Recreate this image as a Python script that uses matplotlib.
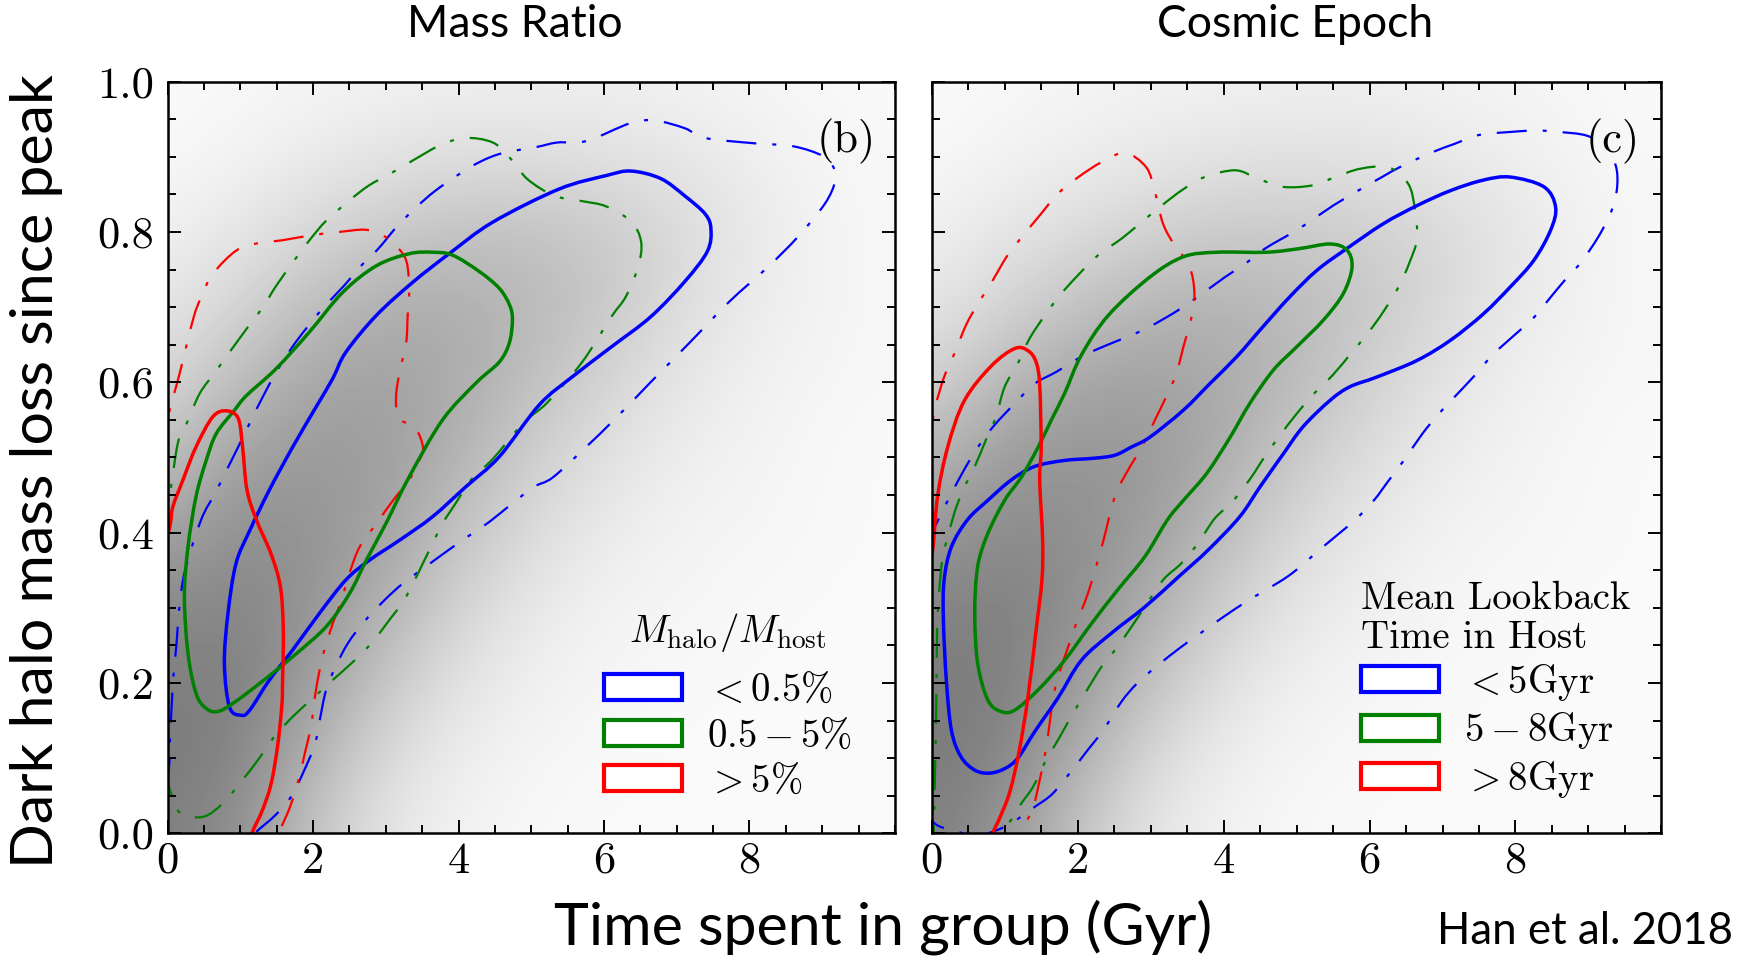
#!/usr/bin/env python3
"""Mass loss vs time in group: density + contours, two panels (b, c)."""
import numpy as np
import matplotlib
matplotlib.use("Agg")
import matplotlib.pyplot as plt
from matplotlib.colors import LinearSegmentedColormap
from matplotlib.patches import Patch, PathPatch
from matplotlib.path import Path
from matplotlib.ticker import MultipleLocator

plt.rcParams["mathtext.fontset"] = "cm"
plt.rcParams["axes.unicode_minus"] = False

# ---------------------------------------------------------------- data
X_TICKS = [0, 2, 4, 6, 8]
X_TICK_LABELS = ["0", "2", "4", "6", "8"]
Y_TICKS = [0.0, 0.2, 0.4, 0.6, 0.8, 1.0]
Y_TICK_LABELS = ["0.0", "0.2", "0.4", "0.6", "0.8", "1.0"]

# background density (darkness 0..1), rows y = 0.0 .. 1.0, cols x = 0 .. 10
DENS_B = [
    [0.50, 0.44, 0.22, 0.10, 0.05, 0.03, 0.02, 0.02, 0.02, 0.02, 0.02],
    [0.52, 0.48, 0.30, 0.14, 0.07, 0.04, 0.03, 0.02, 0.02, 0.02, 0.02],
    [0.50, 0.50, 0.38, 0.22, 0.11, 0.06, 0.04, 0.03, 0.02, 0.02, 0.02],
    [0.46, 0.48, 0.42, 0.30, 0.17, 0.09, 0.05, 0.04, 0.03, 0.02, 0.02],
    [0.36, 0.44, 0.42, 0.36, 0.24, 0.14, 0.08, 0.05, 0.04, 0.03, 0.02],
    [0.25, 0.37, 0.40, 0.38, 0.30, 0.19, 0.12, 0.07, 0.05, 0.03, 0.02],
    [0.16, 0.27, 0.35, 0.37, 0.33, 0.25, 0.17, 0.10, 0.06, 0.04, 0.03],
    [0.10, 0.17, 0.26, 0.32, 0.32, 0.28, 0.22, 0.14, 0.08, 0.05, 0.03],
    [0.06, 0.10, 0.16, 0.21, 0.24, 0.24, 0.21, 0.15, 0.09, 0.05, 0.03],
    [0.03, 0.05, 0.08, 0.11, 0.13, 0.13, 0.12, 0.10, 0.07, 0.04, 0.03],
    [0.02, 0.03, 0.04, 0.05, 0.06, 0.06, 0.06, 0.05, 0.04, 0.03, 0.02],
]
DENS_C = [
    [0.50, 0.42, 0.22, 0.10, 0.05, 0.03, 0.02, 0.02, 0.02, 0.02, 0.02],
    [0.52, 0.48, 0.32, 0.15, 0.07, 0.04, 0.03, 0.02, 0.02, 0.02, 0.02],
    [0.52, 0.50, 0.40, 0.24, 0.12, 0.06, 0.04, 0.03, 0.02, 0.02, 0.02],
    [0.48, 0.50, 0.44, 0.32, 0.19, 0.10, 0.06, 0.04, 0.03, 0.02, 0.02],
    [0.40, 0.46, 0.44, 0.38, 0.26, 0.15, 0.09, 0.05, 0.04, 0.03, 0.02],
    [0.29, 0.39, 0.42, 0.40, 0.32, 0.21, 0.13, 0.08, 0.05, 0.03, 0.02],
    [0.18, 0.28, 0.35, 0.37, 0.34, 0.27, 0.18, 0.11, 0.06, 0.04, 0.03],
    [0.10, 0.17, 0.24, 0.29, 0.30, 0.27, 0.22, 0.15, 0.09, 0.05, 0.03],
    [0.06, 0.10, 0.14, 0.18, 0.21, 0.21, 0.19, 0.15, 0.10, 0.05, 0.03],
    [0.03, 0.05, 0.07, 0.09, 0.11, 0.12, 0.11, 0.09, 0.07, 0.04, 0.03],
    [0.02, 0.03, 0.04, 0.05, 0.05, 0.06, 0.06, 0.05, 0.04, 0.03, 0.02],
]

# panel (b): M_halo / M_host
B_BLUE_SOLID = [
    (1.01, 0.157), (0.85, 0.168), (0.78, 0.226), (0.83, 0.293), (0.94, 0.359),
    (1.13, 0.403), (1.40, 0.457), (1.72, 0.514), (2.04, 0.567), (2.27, 0.605),
    (2.45, 0.640), (2.87, 0.689), (3.37, 0.733), (3.87, 0.771), (4.47, 0.813),
    (5.38, 0.857), (6.03, 0.875), (6.37, 0.881), (6.78, 0.871), (7.11, 0.848),
    (7.39, 0.824), (7.47, 0.804), (7.42, 0.774), (7.11, 0.734), (6.64, 0.687),
    (6.10, 0.647), (5.56, 0.607), (5.11, 0.570), (4.56, 0.501), (4.10, 0.461),
    (3.64, 0.421), (3.19, 0.390), (2.77, 0.363), (2.45, 0.337), (2.09, 0.293),
    (1.72, 0.244), (1.40, 0.204), (1.13, 0.164),
]
B_GREEN_SOLID = [
    (0.69, 0.162), (0.53, 0.166), (0.39, 0.186), (0.28, 0.239), (0.23, 0.315),
    (0.28, 0.381), (0.39, 0.448), (0.53, 0.496), (0.67, 0.532), (0.92, 0.563),
    (1.08, 0.582), (1.49, 0.618), (1.95, 0.667), (2.41, 0.720), (2.87, 0.755),
    (3.32, 0.771), (3.64, 0.773), (3.92, 0.769), (4.29, 0.747), (4.56, 0.725),
    (4.70, 0.703), (4.74, 0.684), (4.70, 0.653), (4.56, 0.627), (4.25, 0.600),
    (3.78, 0.550), (3.32, 0.474), (3.00, 0.412), (2.73, 0.363), (2.50, 0.319),
    (2.18, 0.275), (1.72, 0.235), (1.26, 0.199), (0.90, 0.173),
]
B_RED_SOLID = [
    (-0.10, 0.36), (0.03, 0.408), (0.07, 0.434), (0.21, 0.470), (0.39, 0.514),
    (0.62, 0.554), (0.81, 0.562), (0.97, 0.552), (1.03, 0.514), (1.09, 0.457),
    (1.22, 0.417), (1.42, 0.372), (1.55, 0.328), (1.59, 0.270), (1.58, 0.204),
    (1.57, 0.170), (1.51, 0.115), (1.42, 0.065), (1.30, 0.030), (1.16, 0.0),
    (1.10, -0.03),
]
B_BLUE_DASH = [
    (-0.03, 0.06), (0.02, 0.09), (0.03, 0.12), (0.05, 0.16), (0.08, 0.21),
    (0.12, 0.25), (0.16, 0.30), (0.24, 0.35), (0.46, 0.417), (0.65, 0.452),
    (0.81, 0.483), (0.97, 0.514), (1.15, 0.550), (1.31, 0.581), (1.49, 0.613),
    (1.70, 0.645), (1.90, 0.671), (2.13, 0.698), (2.43, 0.729), (2.64, 0.753),
    (2.89, 0.777), (3.16, 0.808), (3.42, 0.833), (3.67, 0.854), (4.01, 0.877),
    (4.31, 0.894), (4.61, 0.905), (5.07, 0.913), (5.36, 0.919), (5.76, 0.921),
    (6.37, 0.945), (6.71, 0.948), (7.11, 0.938), (7.39, 0.925), (8.06, 0.918),
    (8.60, 0.914), (9.01, 0.901), (9.16, 0.885), (9.18, 0.868), (9.04, 0.838),
    (8.67, 0.794), (8.26, 0.754), (7.72, 0.707), (7.18, 0.653), (6.64, 0.600),
    (6.17, 0.553), (5.70, 0.509), (5.29, 0.473), (5.04, 0.461), (4.74, 0.439),
    (4.42, 0.414), (4.13, 0.395), (3.85, 0.376), (3.51, 0.352), (3.23, 0.332),
    (2.98, 0.310), (2.68, 0.279), (2.48, 0.253), (2.32, 0.224), (2.18, 0.191),
    (2.09, 0.150), (2.02, 0.117), (1.86, 0.080), (1.70, 0.049), (1.48, 0.024),
    (1.20, 0.0), (1.05, -0.02),
]
B_GREEN_DASH = [
    (-0.10, 0.40), (0.03, 0.452), (0.14, 0.519), (0.26, 0.545), (0.44, 0.585),
    (0.65, 0.613), (0.85, 0.640), (1.10, 0.673), (1.31, 0.700), (1.49, 0.728),
    (1.74, 0.762), (1.95, 0.789), (2.18, 0.815), (2.50, 0.842), (2.77, 0.862),
    (3.07, 0.878), (3.44, 0.899), (3.74, 0.915), (4.08, 0.925), (4.47, 0.919),
    (4.72, 0.897), (4.95, 0.870), (5.32, 0.848), (5.70, 0.841), (6.03, 0.834),
    (6.37, 0.814), (6.51, 0.787), (6.47, 0.754), (6.30, 0.714), (6.10, 0.687),
    (5.70, 0.627), (5.22, 0.573), (4.89, 0.546), (4.48, 0.499), (4.17, 0.470),
    (3.96, 0.439), (3.78, 0.412), (3.60, 0.377), (3.28, 0.315), (3.05, 0.284),
    (2.82, 0.255), (2.57, 0.230), (2.27, 0.204), (2.00, 0.180), (1.74, 0.157),
    (1.47, 0.129), (1.26, 0.100), (1.03, 0.071), (0.76, 0.040), (0.49, 0.022),
    (0.17, 0.027), (0.03, 0.058), (-0.10, 0.09),
]
B_RED_DASH = [
    (-0.10, 0.50), (0.02, 0.56), (0.16, 0.610), (0.35, 0.684), (0.46, 0.713),
    (0.62, 0.744), (0.94, 0.775), (1.24, 0.785), (1.58, 0.789), (2.00, 0.796),
    (2.36, 0.800), (2.71, 0.803), (2.91, 0.797), (3.07, 0.788), (3.28, 0.762),
    (3.32, 0.716), (3.30, 0.689), (3.28, 0.653), (3.19, 0.614), (3.14, 0.580),
    (3.18, 0.552), (3.40, 0.540), (3.51, 0.514), (3.46, 0.496), (3.32, 0.470),
    (3.10, 0.443), (2.87, 0.412), (2.64, 0.381), (2.50, 0.346), (2.39, 0.310),
    (2.27, 0.279), (2.13, 0.235), (2.04, 0.191), (1.97, 0.142), (1.88, 0.104),
    (1.81, 0.075), (1.69, 0.037), (1.53, 0.0), (1.45, -0.03),
]

# panel (c): mean lookback time in host
C_BLUE_SOLID = [
    (0.79, 0.080), (0.59, 0.084), (0.40, 0.102), (0.27, 0.137), (0.20, 0.204),
    (0.16, 0.284), (0.17, 0.337), (0.27, 0.381), (0.49, 0.417), (0.77, 0.443),
    (1.09, 0.470), (1.41, 0.488), (1.82, 0.496), (2.23, 0.499), (2.51, 0.503),
    (2.74, 0.514), (2.99, 0.527), (3.45, 0.563), (3.81, 0.598), (4.18, 0.634),
    (4.54, 0.674), (4.91, 0.714), (5.28, 0.749), (5.69, 0.778), (6.19, 0.811),
    (6.65, 0.835), (7.11, 0.855), (7.56, 0.869), (7.93, 0.873), (8.39, 0.860),
    (8.55, 0.833), (8.48, 0.802), (8.25, 0.762), (7.93, 0.727), (7.56, 0.691),
    (7.11, 0.656), (6.65, 0.629), (6.10, 0.607), (5.73, 0.594), (5.46, 0.576),
    (5.09, 0.541), (4.82, 0.505), (4.50, 0.461), (4.22, 0.421), (3.79, 0.377),
    (3.38, 0.341), (2.92, 0.301), (2.46, 0.266), (2.05, 0.230), (1.73, 0.180),
    (1.41, 0.135), (1.18, 0.100), (1.00, 0.086),
]
C_GREEN_SOLID = [
    (0.95, 0.162), (0.77, 0.177), (0.63, 0.226), (0.59, 0.293), (0.63, 0.355),
    (0.77, 0.399), (1.00, 0.443), (1.23, 0.474), (1.46, 0.514), (1.64, 0.550),
    (1.82, 0.585), (2.05, 0.636), (2.42, 0.689), (2.99, 0.740), (3.45, 0.767),
    (3.91, 0.773), (4.59, 0.773), (5.05, 0.778), (5.46, 0.784), (5.69, 0.776),
    (5.76, 0.753), (5.64, 0.718), (5.37, 0.683), (5.00, 0.647), (4.68, 0.616),
    (4.36, 0.572), (4.09, 0.527), (3.77, 0.479), (3.45, 0.443), (3.23, 0.417),
    (2.92, 0.368), (2.55, 0.324), (2.19, 0.279), (1.82, 0.230), (1.46, 0.191),
    (1.14, 0.164),
]
C_RED_SOLID = [
    (-0.10, 0.33), (0.01, 0.375), (0.08, 0.448), (0.22, 0.514), (0.45, 0.576),
    (0.82, 0.622), (1.14, 0.645), (1.32, 0.642), (1.43, 0.627), (1.48, 0.596),
    (1.50, 0.514), (1.48, 0.470), (1.52, 0.390), (1.51, 0.337), (1.43, 0.270),
    (1.32, 0.182), (1.20, 0.110), (1.07, 0.055), (0.93, 0.020), (0.84, 0.0),
    (0.78, -0.03),
]
C_BLUE_DASH = [
    (-0.10, 0.035), (0.04, 0.013), (0.27, 0.004), (0.50, -0.002), (0.62, -0.01),
    (0.73, -0.002), (1.05, 0.011), (1.41, 0.035), (1.66, 0.053), (1.94, 0.086),
    (2.14, 0.111), (2.35, 0.137), (2.60, 0.175), (2.81, 0.199), (3.08, 0.222),
    (3.42, 0.248), (3.68, 0.266), (3.97, 0.286), (4.34, 0.310), (4.62, 0.326),
    (4.94, 0.346), (5.35, 0.380), (5.79, 0.416), (6.06, 0.443), (6.26, 0.469),
    (6.47, 0.496), (6.72, 0.531), (6.93, 0.556), (7.16, 0.580), (7.46, 0.611),
    (7.68, 0.636), (7.93, 0.658), (8.25, 0.686), (8.48, 0.713), (8.73, 0.742),
    (8.91, 0.761), (9.18, 0.801), (9.36, 0.841), (9.39, 0.881), (9.25, 0.912),
    (8.98, 0.928), (8.60, 0.933), (8.28, 0.935), (7.93, 0.933), (7.50, 0.929),
    (7.16, 0.917), (6.86, 0.906), (6.45, 0.888), (6.17, 0.873), (5.88, 0.857),
    (5.50, 0.835), (5.23, 0.817), (4.96, 0.800), (4.57, 0.778), (4.30, 0.758),
    (4.02, 0.740), (3.68, 0.716), (3.38, 0.696), (2.99, 0.674), (2.72, 0.662),
    (2.39, 0.649), (2.07, 0.635), (1.71, 0.614), (1.41, 0.598), (1.14, 0.572),
    (0.86, 0.543), (0.65, 0.516), (0.47, 0.488), (0.27, 0.452), (0.11, 0.421),
    (-0.10, 0.38),
]
C_GREEN_DASH = [
    (0.02, -0.03), (0.03, 0.013), (0.04, 0.058), (0.06, 0.155), (0.07, 0.248),
    (0.08, 0.284), (0.10, 0.319), (0.15, 0.368), (0.22, 0.394), (0.31, 0.426),
    (0.43, 0.457), (0.59, 0.488), (0.75, 0.525), (0.88, 0.554), (1.00, 0.594),
    (1.18, 0.625), (1.34, 0.658), (1.55, 0.689), (1.75, 0.715), (2.00, 0.742),
    (2.28, 0.769), (2.60, 0.791), (2.85, 0.811), (3.15, 0.835), (3.45, 0.857),
    (3.74, 0.873), (4.16, 0.882), (4.47, 0.871), (4.81, 0.860), (5.22, 0.862),
    (5.53, 0.873), (5.87, 0.884), (6.26, 0.886), (6.53, 0.864), (6.62, 0.831),
    (6.65, 0.791), (6.55, 0.760), (6.41, 0.729), (6.19, 0.694), (5.99, 0.667),
    (5.76, 0.640), (5.49, 0.609), (5.24, 0.585), (5.00, 0.558), (4.77, 0.529),
    (4.57, 0.502), (4.36, 0.471), (4.11, 0.440), (3.88, 0.419), (3.65, 0.386),
    (3.42, 0.359), (3.17, 0.337), (2.92, 0.301), (2.74, 0.275), (2.53, 0.246),
    (2.33, 0.222), (2.10, 0.186), (1.91, 0.155), (1.73, 0.124), (1.57, 0.098),
    (1.39, 0.062), (1.23, 0.040), (1.09, 0.018), (1.00, 0.007), (0.95, -0.02),
]
C_RED_DASH = [
    (-0.10, 0.49), (0.04, 0.563), (0.17, 0.607), (0.31, 0.638), (0.47, 0.676),
    (0.63, 0.704), (0.82, 0.733), (1.04, 0.769), (1.25, 0.795), (1.48, 0.822),
    (1.73, 0.851), (2.01, 0.873), (2.33, 0.893), (2.65, 0.905), (2.94, 0.886),
    (3.06, 0.853), (3.17, 0.811), (3.33, 0.782), (3.53, 0.755), (3.60, 0.718),
    (3.55, 0.682), (3.46, 0.651), (3.35, 0.611), (3.21, 0.580), (3.06, 0.550),
    (2.88, 0.514), (2.69, 0.483), (2.51, 0.448), (2.33, 0.381), (2.14, 0.319),
    (1.98, 0.279), (1.87, 0.248), (1.73, 0.208), (1.66, 0.177), (1.57, 0.115),
    (1.48, 0.071), (1.39, 0.035), (1.23, 0.0), (1.18, -0.03),
]

B_LEGEND_TITLE = r"$M_{\rm halo}/M_{\rm host}$"
B_LEGEND_LABELS = [r"$<0.5\%$", r"$0.5-5\%$", r"$>5\%$"]
C_LEGEND_TITLE = "Mean Lookback\nTime in Host"
C_LEGEND_LABELS = [r"$<5{\rm Gyr}$", r"$5-8{\rm Gyr}$", r"$>8{\rm Gyr}$"]

COLORS = ["#0000ff", "#008000", "#ff0000"]
DASHDOT = (0, (13.5, 7.2, 1.8, 7.2))
SANS = "Lato"
CM = "cmr10"

w2k = LinearSegmentedColormap.from_list("w2k", ["white", "black"])


def smooth_path(pts, closed):
    # Catmull-Rom through the read points, drawn as cubic Bezier segments
    p = np.asarray(pts, dtype=float)
    n = len(p)
    if closed:
        prev = np.roll(p, 1, axis=0)
        nxt = np.roll(p, -1, axis=0)
        seg = range(n)
    else:
        prev = np.vstack([p[:1], p[:-1]])
        nxt = np.vstack([p[1:], p[-1:]])
        seg = range(n - 1)
    tang = (nxt - prev) / 6.0
    verts, codes = [p[0]], [Path.MOVETO]
    for i in seg:
        j = (i + 1) % n
        verts += [p[i] + tang[i], p[j] - tang[j], p[j]]
        codes += [Path.CURVE4] * 3
    return Path(verts, codes)


def draw_curve(ax, pts, color, dashed, closed):
    path = smooth_path(pts, closed)
    if dashed:
        patch = PathPatch(path, fill=False, edgecolor=color, lw=1.6,
                          ls=DASHDOT, capstyle="butt")
    else:
        patch = PathPatch(path, fill=False, edgecolor=color, lw=2.5,
                          joinstyle="round")
    ax.add_patch(patch)


def panel(ax, dens, solids, dashes, closed_flags, tag):
    ax.imshow(np.array(dens), origin="lower", cmap=w2k, vmin=0, vmax=1,
              extent=[-0.5, 10.5, -0.05, 1.05], aspect="auto",
              interpolation="bicubic", zorder=0)
    for pts, c in zip(dashes, COLORS):
        draw_curve(ax, pts, c, True, False)
    for pts, c, cl in zip(solids, COLORS, closed_flags):
        draw_curve(ax, pts, c, False, cl)

    ax.set_xlim(0, 10)
    ax.set_ylim(0, 1)
    ax.set_xticks(X_TICKS, X_TICK_LABELS, fontfamily=CM, fontsize=32)
    ax.set_yticks(Y_TICKS, Y_TICK_LABELS, fontfamily=CM, fontsize=32)
    ax.xaxis.set_minor_locator(MultipleLocator(0.5))
    ax.yaxis.set_minor_locator(MultipleLocator(0.05))
    ax.tick_params(which="both", direction="in", top=True, right=True,
                   width=1.4, colors="black")
    ax.tick_params(which="major", length=9.5)
    ax.tick_params(axis="y", which="major", pad=10)
    ax.tick_params(axis="x", which="major", pad=6)
    ax.tick_params(which="minor", length=5.5)
    for s in ax.spines.values():
        s.set_linewidth(1.8)
    ax.text(9.33, 0.92, tag, fontfamily=CM, fontsize=32, ha="center",
            va="center")


fig = plt.figure(figsize=(17.52, 9.59), dpi=100)
ax_b = fig.add_axes([0.0957, 0.1311, 0.4151, 0.7838])
ax_c = fig.add_axes([0.5318, 0.1311, 0.4165, 0.7838])

panel(ax_b, DENS_B, [B_BLUE_SOLID, B_GREEN_SOLID, B_RED_SOLID],
      [B_BLUE_DASH, B_GREEN_DASH, B_RED_DASH], [True, True, False], "(b)")
panel(ax_c, DENS_C, [C_BLUE_SOLID, C_GREEN_SOLID, C_RED_SOLID],
      [C_BLUE_DASH, C_GREEN_DASH, C_RED_DASH], [True, True, False], "(c)")
ax_c.tick_params(labelleft=False)

handles = [Patch(facecolor="white", edgecolor=c, linewidth=3) for c in COLORS]
leg_kw = dict(loc="lower left", frameon=False, fontsize=28,
              handlelength=2.0, handleheight=0.65, handletextpad=0.65,
              labelspacing=0.19, borderpad=0, borderaxespad=0)
leg_b = ax_b.legend(handles, B_LEGEND_LABELS, title=B_LEGEND_TITLE,
                    title_fontsize=28, bbox_to_anchor=(0.600, 0.0445),
                    **leg_kw)
leg_b._legend_box.sep = 12.6
leg_c = ax_c.legend(handles, C_LEGEND_LABELS, title=C_LEGEND_TITLE,
                    title_fontproperties={"family": CM, "size": 28},
                    alignment="left", bbox_to_anchor=(0.588, 0.0445),
                    **leg_kw)
leg_c.get_title().set_linespacing(1.1)
leg_c._legend_box.sep = 4.5

fig.text(0.294, 0.974, "Mass Ratio", family=SANS, fontsize=32,
         ha="center", va="center")
fig.text(0.739, 0.974, "Cosmic Epoch", family=SANS, fontsize=32,
         ha="center", va="center")
fig.text(0.021, 0.509, "Dark halo mass loss since peak", family=SANS,
         fontsize=42.5, rotation=90, ha="center", va="center")
fig.text(0.504, 0.033, "Time spent in group (Gyr)", family=SANS,
         fontsize=42.5, ha="center", va="center")
fig.text(0.989, 0.029, "Han et al. 2018", family=SANS, fontsize=31.5,
         ha="right", va="center")

fig.savefig("out.png", dpi=100, facecolor="white")
